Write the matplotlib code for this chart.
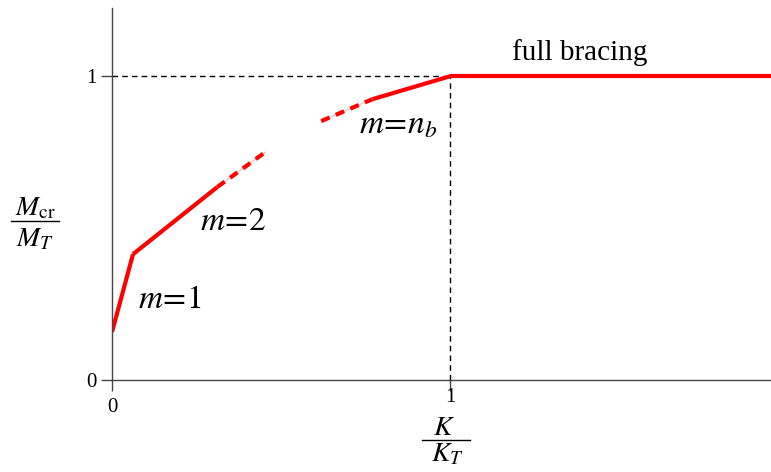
import numpy as np
import matplotlib.pyplot as plt
from matplotlib.lines import Line2D

plt.rcParams.update({
    'font.family': 'Liberation Serif',
    'mathtext.fontset': 'stix',
    'axes.linewidth': 1.0,
    'xtick.direction': 'out',
    'ytick.direction': 'out',
})

# bracing curve pieces (K/K_T, M_cr/M_T)
m1_x = [0.0, 0.062]
m1_y = [0.158, 0.414]
m2_x = [0.062, 0.311]
m2_y = [0.414, 0.635]
m2_dash_x = [0.311, 0.453]
m2_dash_y = [0.635, 0.750]
mn_dash_x = [0.618, 0.769]
mn_dash_y = [0.852, 0.924]
mn_x = [0.769, 1.0]
mn_y = [0.924, 1.0]
full_x = [1.0, 1.95]
full_y = [1.0, 1.0]

red = '#ff0000'
W, H = 771, 472

fig = plt.figure(figsize=(W / 100, H / 100), dpi=100)
ax = fig.add_axes([0.1453, 0.1949, 0.8547, 0.788])

# guide lines to the full-bracing point
ax.plot([0, 1], [1, 1], color='black', lw=1.0, ls=(0, (4, 3)))
ax.plot([1, 1], [0, 1], color='black', lw=1.0, ls=(0, (4, 3)))

for xs, ys in [(m1_x, m1_y), (m2_x, m2_y), (mn_x, mn_y), (full_x, full_y)]:
    ax.plot(xs, ys, color=red, lw=3, solid_capstyle='butt')
for xs, ys in [(m2_dash_x, m2_dash_y), (mn_dash_x, mn_dash_y)]:
    ax.plot(xs, ys, color='#ffb8b8', lw=0.8)
    ax.plot(xs, ys, color=red, lw=3, ls=(0, (2.2, 1.6)), dash_capstyle='butt')

ax.set_xlim(0, 1.947)
ax.set_ylim(0, 1.224)
ax.set_xticks([0, 1])
ax.set_yticks([0, 1])
ax.set_xticklabels([])
ax.set_yticklabels(['0', '1'])
ax.tick_params(axis='both', length=8, width=1.0, color='#444444', labelsize=15, pad=3)
for s in ['top', 'right']:
    ax.spines[s].set_visible(False)
for s in ['left', 'bottom']:
    ax.spines[s].set_color('#444444')


def fx(px):
    return px / W


def fy(py):
    return 1 - py / H


# x tick labels
fig.text(fx(112), fy(407), '0', fontsize=15, ha='center', va='center')
fig.text(fx(450), fy(398), '1', fontsize=15, ha='center', va='center')

ax.text(0.077, 0.237, r'$m\!=\!1$', fontsize=24)
ax.text(0.26, 0.493, r'$m\!=\!2$', fontsize=24)
ax.text(0.731, 0.8125, r'$m\!=\!n_b$', fontsize=24)
ax.text(1.183, 1.053, 'full bracing', fontsize=21)

# y label as a stacked fraction
fig.text(fx(35), fy(215), r'$M_{\mathrm{cr}}$', fontsize=20, ha='center', va='baseline')
fig.add_artist(Line2D([fx(11), fx(59)], [fy(221), fy(221)], color='black', lw=1.0))
fig.text(fx(35), fy(246), r'$M_T$', fontsize=20, ha='center', va='baseline')

# x label as a stacked fraction
fig.text(fx(444), fy(435), r'$K$', fontsize=20, ha='center', va='baseline')
fig.add_artist(Line2D([fx(422), fx(470)], [fy(440), fy(440)], color='black', lw=1.0))
fig.text(fx(447), fy(461), r'$K_T$', fontsize=20, ha='center', va='baseline')

fig.savefig('out.png', dpi=100, facecolor='white')
